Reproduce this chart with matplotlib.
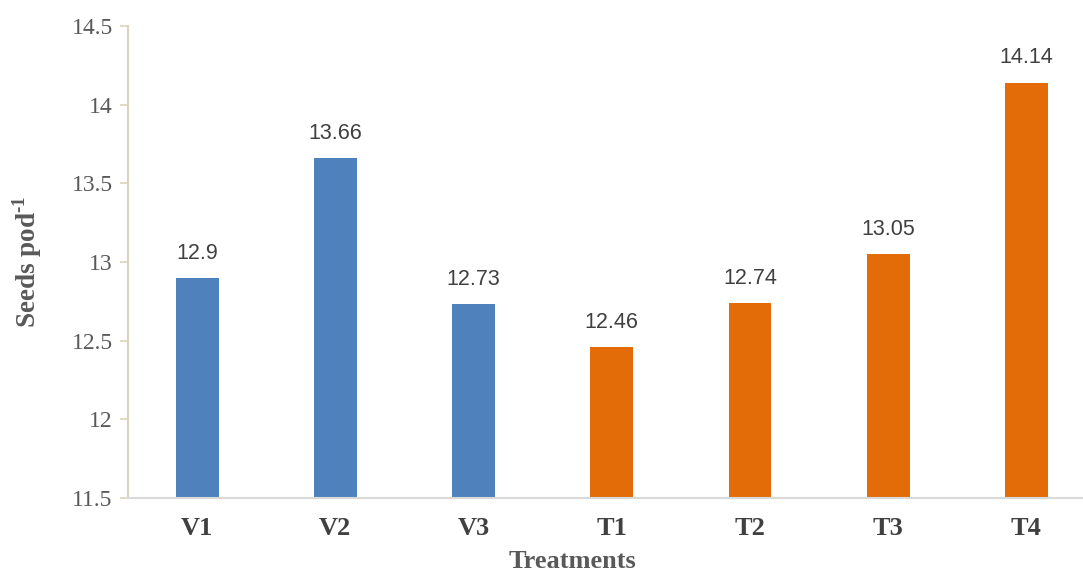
import matplotlib
matplotlib.use("Agg")
import matplotlib.pyplot as plt

# seeds per pod for each treatment
treatments = ["V1", "V2", "V3", "T1", "T2", "T3", "T4"]
seeds_pod = [12.9, 13.66, 12.73, 12.46, 12.74, 13.05, 14.14]
bar_colors = ["#4F81BD"] * 3 + ["#E36C09"] * 4
y_ticks = [11.5, 12, 12.5, 13, 13.5, 14, 14.5]

plt.rcParams["mathtext.fontset"] = "custom"
plt.rcParams["mathtext.rm"] = "Liberation Serif:bold"
plt.rcParams["mathtext.bf"] = "Liberation Serif:bold"

fig = plt.figure(figsize=(10.83, 5.72), dpi=100)
ax = fig.add_axes([128 / 1083, 1 - 498 / 572, 1 - 128 / 1083, (498 - 26) / 572])

x = list(range(len(treatments)))
bars = ax.bar(x, [v - 11.5 for v in seeds_pod], bottom=11.5, width=0.31,
              color=bar_colors, zorder=2)

for xi, v in zip(x, seeds_pod):
    ax.text(xi, v + 0.09, f"{v:g}", ha="center", va="bottom",
            fontsize=15.5, family="Liberation Sans", color="#404040")

ax.set_ylim(11.5, 14.5)
ax.set_xlim(-0.5, 6.41)
ax.set_yticks(y_ticks)
ax.set_yticklabels([f"{t:g}" for t in y_ticks], family="Liberation Serif",
                   fontsize=17, color="#595959")
ax.set_xticks(x)
ax.set_xticklabels(treatments, family="Liberation Serif", fontsize=19,
                   fontweight="bold", color="#404040")

ax.tick_params(axis="y", length=6, width=1.2, color="#D9D5B8", pad=5)
ax.tick_params(axis="x", length=0, pad=14)

for side in ("top", "right"):
    ax.spines[side].set_visible(False)
ax.spines["left"].set_color("#D9D5B8")
ax.spines["left"].set_linewidth(1.5)
ax.spines["bottom"].set_color("#D9D9D9")
ax.spines["bottom"].set_linewidth(1.5)

ax.set_xlabel("Treatments", family="Liberation Serif", fontsize=19,
              fontweight="bold", color="#595959")
ax.xaxis.set_label_coords(0.465, -0.11)
ax.set_ylabel(r"Seeds pod$^{\text{-1}}$", family="Liberation Serif", fontsize=19.5,
              fontweight="bold", color="#595959", labelpad=20)

fig.savefig("out.png", dpi=100)
